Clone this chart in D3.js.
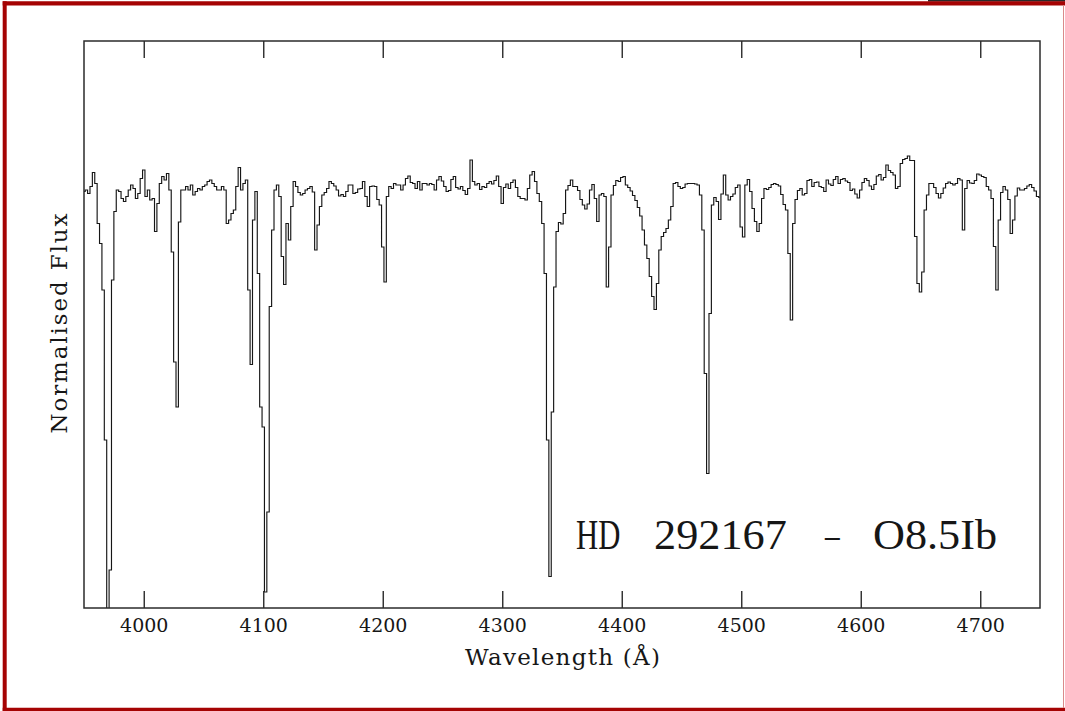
<!DOCTYPE html>
<html>
<head>
<meta charset="utf-8">
<script src="https://cdn.jsdelivr.net/npm/d3@7"></script>
<style>
  html, body { margin: 0; padding: 0; background: #fff; overflow: hidden; }
  svg { display: block; }
</style>
</head>
<body>
<svg id="chart" width="1065" height="711"></svg>
<script>
// Spectrum sampling: first wavelength (Å) and step between samples (Å)
const wavelengthStart = 3950;
const wavelengthStep = 2;

// Normalised flux, one value per sample, ten samples (20 Å) per row
const flux = [
  0.991, 0.994, 0.987, 1.001, 1.029, 1.007, 0.927, 0.887, 0.794, 0.494, // 3950
  0.12,  0.234, 0.814, 0.951, 0.994, 0.991, 0.977, 0.971, 0.981, 0.994, // 3970
  1.004, 0.997, 0.977, 0.987, 1.017, 1.034, 0.981, 0.994, 0.974, 0.977, // 3990
  0.911, 0.967, 1.007, 1.021, 1.014, 1.027, 0.994, 0.87,  0.65,  0.56,  // 4010
  0.93,  0.994, 0.994, 1.001, 0.994, 1.004, 0.984, 0.991, 0.997, 0.994, // 4030
  1.001, 1.004, 1.011, 1.014, 1.007, 1.001, 0.994, 0.994, 1.001, 0.994, // 4050
  0.927, 0.934, 0.947, 0.954, 1.001, 1.039, 0.994, 1.007, 1.014, 0.794, // 4070
  0.645, 0.934, 0.991, 0.827, 0.56,  0.52,  0.19,  0.35,  0.761, 0.914, // 4090
  0.994, 1.004, 0.981, 0.861, 0.805, 0.927, 0.894, 0.961, 1.011, 1.001, // 4110
  0.989, 0.984, 0.987, 0.994, 0.997, 1.001, 0.99,  0.874, 0.924, 0.961, // 4130
  0.984, 0.989, 0.997, 1.011, 1.007, 1.002, 0.994, 0.982, 0.985, 0.981, // 4150
  0.991, 1.004, 1.004, 0.987, 0.989, 0.996, 0.997, 1.011, 0.981, 0.961, // 4170
  1.001, 1.002, 1.001, 0.975, 0.964, 0.88,  0.81,  0.981, 1.001, 0.997, // 4190
  1.007, 1.004, 1.004, 0.994, 1.004, 1.017, 1.022, 1.009, 1.007, 0.997, // 4210
  1.011, 0.994, 1.007, 1.007, 1.004, 1.007, 1.005, 0.994, 1.014, 1.021, // 4230
  1.012, 1.001, 0.991, 0.993, 1.015, 1.021, 0.999, 0.996, 1.001, 0.993, // 4250
  0.985, 0.997, 1.054, 1.011, 1.004, 1.007, 0.995, 1.001, 0.999, 1.007, // 4270
  1.011, 1.006, 1.013, 1.022, 1.001, 0.967, 0.999, 1.006, 0.997, 1.009, // 4290
  1.014, 0.999, 0.981, 0.977, 0.977, 0.974, 0.997, 1.024, 1.031, 1.011, // 4310
  0.987, 0.971, 0.927, 0.827, 0.494, 0.221, 0.55,  0.80,  0.911, 0.929, // 4330
  0.926, 0.947, 0.994, 1.003, 1.014, 1.001, 1.001, 0.993, 0.975, 0.964, // 4350
  0.956, 0.966, 0.994, 1.005, 0.977, 0.931, 0.984, 0.987, 0.981, 0.80,  // 4370
  0.88,  0.984, 1.003, 1.013, 1.011, 1.019, 1.021, 1.004, 0.999, 0.992, // 4390
  0.983, 0.973, 0.959, 0.942, 0.914, 0.884, 0.857, 0.821, 0.781, 0.755, // 4410
  0.807, 0.874, 0.901, 0.909, 0.917, 0.934, 0.961, 1.007, 1.009, 1.001, // 4430
  0.997, 0.999, 1.006, 1.007, 1.007, 1.007, 1.006, 1.004, 0.984, 0.914, // 4450
  0.627, 0.427, 0.747, 0.964, 0.979, 0.971, 0.935, 0.986, 1.024, 0.984, // 4470
  0.974, 0.981, 0.986, 0.999, 1.004, 0.92,  0.90,  1.004, 1.015, 0.991, // 4490
  0.957, 0.931, 0.911, 0.927, 0.977, 0.997, 0.995, 0.999, 1.005, 1.007, // 4510
  1.005, 1.002, 0.985, 0.965, 0.954, 0.867, 0.734, 0.927, 0.975, 0.993, // 4530
  0.997, 0.984, 0.987, 1.013, 1.015, 1.001, 1.009, 1.010, 1.001, 0.999, // 4550
  0.991, 1.014, 1.006, 1.003, 1.015, 1.021, 1.007, 1.015, 1.017, 1.012, // 4570
  1.009, 0.993, 0.996, 0.986, 0.978, 0.994, 1.009, 1.017, 1.013, 1.002, // 4590
  0.995, 1.005, 1.022, 1.025, 1.014, 1.019, 1.044, 1.033, 1.029, 1.024, // 4610
  0.997, 1.001, 1.047, 1.055, 1.057, 1.062, 1.053, 1.053, 0.901, 0.807, // 4630
  0.79,  0.83,  0.954, 0.984, 1.007, 1.007, 0.999, 0.987, 0.978, 0.987, // 4650
  0.998, 1.007, 1.010, 1.007, 1.004, 1.007, 1.017, 1.014, 0.914, 0.997, // 4670
  1.013, 1.008, 1.007, 1.013, 1.026, 1.024, 1.021, 1.019, 1.001, 0.994, // 4690
  0.977, 0.881, 0.794, 0.934, 0.989, 1.001, 0.994, 0.975, 0.907, 0.934, // 4710
  0.982, 0.998, 0.994, 0.994, 0.997, 1.002, 1.005, 0.999, 0.992, 0.981, // 4730
  0.979                                                                  // 4750
];

// Axis ranges and labels
const wavelengthDomain = [3950, 4750];
const fluxDomain = [0.158, 1.292];
const xTickValues = [4000, 4100, 4200, 4300, 4400, 4500, 4600, 4700];
const xTickLabels = ["4000", "4100", "4200", "4300", "4400", "4500", "4600", "4700"];
const xTitle = "Wavelength (Å)";
const yTitle = "Normalised Flux";
const starName = "HD 292167";
const dashText = "–";
const spectralType = "O8.5Ib";

const W = 1065, H = 711;
const plot = { left: 84, right: 1040, top: 41, bottom: 608 };
const serif = "'DejaVu Serif', serif";
const thinSerif = "'Liberation Serif', 'DejaVu Serif', serif";
const ink = "#161616";
const frameInk = "#2b2b2b";

const svg = d3.select("#chart");

// Page frame
const red = "#a50303";
svg.append("rect").attr("x", 928).attr("y", 0).attr("width", W - 928).attr("height", 1.6).attr("fill", "#2a2a2a");
svg.append("line").attr("x1", 2.7).attr("x2", W).attr("y1", 3.3).attr("y2", 3.3)
  .attr("stroke", red).attr("stroke-width", 4.2);
svg.append("line").attr("x1", 4.7).attr("x2", 4.7).attr("y1", 1.2).attr("y2", H)
  .attr("stroke", red).attr("stroke-width", 4);
svg.append("line").attr("x1", 2.7).attr("x2", W).attr("y1", 709.6).attr("y2", 709.6)
  .attr("stroke", red).attr("stroke-width", 3.6);
svg.append("line").attr("x1", 1063.5).attr("x2", 1063.5).attr("y1", 5).attr("y2", 708)
  .attr("stroke", "#d98a8a").attr("stroke-width", 1);

// Scales
const x = d3.scaleLinear().domain(wavelengthDomain).range([plot.left, plot.right]);
const y = d3.scaleLinear().domain(fluxDomain).range([plot.bottom, plot.top]);

// Spectrum
const wavelengths = flux.map((_, i) => wavelengthStart + i * wavelengthStep);
const points = wavelengths.map((w, i) => [w, flux[i]]);

svg.append("clipPath").attr("id", "plot-clip")
  .append("rect")
  .attr("x", plot.left).attr("y", plot.top)
  .attr("width", plot.right - plot.left).attr("height", plot.bottom - plot.top);

const line = d3.line()
  .x(d => x(d[0]))
  .y(d => y(d[1]))
  .curve(d3.curveStep);

svg.append("path")
  .datum(points)
  .attr("clip-path", "url(#plot-clip)")
  .attr("fill", "none")
  .attr("stroke", ink)
  .attr("stroke-width", 1.15)
  .attr("stroke-linejoin", "miter")
  .attr("d", line);

// Bottom axis with inward ticks
const gx = svg.append("g")
  .attr("transform", `translate(0,${plot.bottom})`)
  .call(d3.axisBottom(x)
    .tickValues(xTickValues)
    .tickFormat((d, i) => xTickLabels[i])
    .tickSizeInner(-17)
    .tickSizeOuter(0));
gx.select(".domain").remove();
gx.selectAll(".tick line").attr("stroke", frameInk).attr("stroke-width", 1.4);
gx.selectAll(".tick text")
  .attr("y", 24.3).attr("dy", 0)
  .attr("font-family", serif).attr("font-size", 19)
  .attr("fill", ink);

// Top axis, ticks only
const gt = svg.append("g")
  .attr("transform", `translate(0,${plot.top})`)
  .call(d3.axisTop(x)
    .tickValues(xTickValues)
    .tickFormat("")
    .tickSizeInner(-17)
    .tickSizeOuter(0));
gt.select(".domain").remove();
gt.selectAll(".tick line").attr("stroke", frameInk).attr("stroke-width", 1.4);

// Plot frame
svg.append("rect")
  .attr("x", plot.left).attr("y", plot.top)
  .attr("width", plot.right - plot.left).attr("height", plot.bottom - plot.top)
  .attr("fill", "none").attr("stroke", frameInk).attr("stroke-width", 1.5);

// Axis titles
svg.append("text")
  .attr("x", (plot.left + plot.right) / 2 + 0.5).attr("y", 665)
  .attr("text-anchor", "middle")
  .attr("font-family", serif).attr("font-size", 23).attr("fill", ink)
  .attr("textLength", 195).attr("lengthAdjust", "spacing")
  .text(xTitle);

svg.append("text")
  .attr("transform", `translate(66.5,${(plot.top + plot.bottom) / 2 - 1}) rotate(-90)`)
  .attr("text-anchor", "middle")
  .attr("font-family", serif).attr("font-size", 23).attr("fill", ink)
  .attr("textLength", 220).attr("lengthAdjust", "spacing")
  .text(yTitle);

// Star name and spectral type
const label = svg.append("text")
  .attr("y", 549.3)
  .attr("font-family", thinSerif).attr("font-size", 43).attr("fill", ink);
const nameParts = starName.split(" ");
label.append("tspan").attr("x", 576).attr("textLength", 52).attr("lengthAdjust", "spacingAndGlyphs").text(nameParts[0] + " ");
label.append("tspan").attr("x", 654).attr("textLength", 144).attr("lengthAdjust", "spacingAndGlyphs").text(nameParts[1] + " ");
label.append("tspan").attr("x", 825).attr("textLength", 22).attr("lengthAdjust", "spacingAndGlyphs").text(dashText + " ");
label.append("tspan").attr("x", 873).attr("textLength", 124).attr("lengthAdjust", "spacingAndGlyphs").text(spectralType);
</script>
</body>
</html>
